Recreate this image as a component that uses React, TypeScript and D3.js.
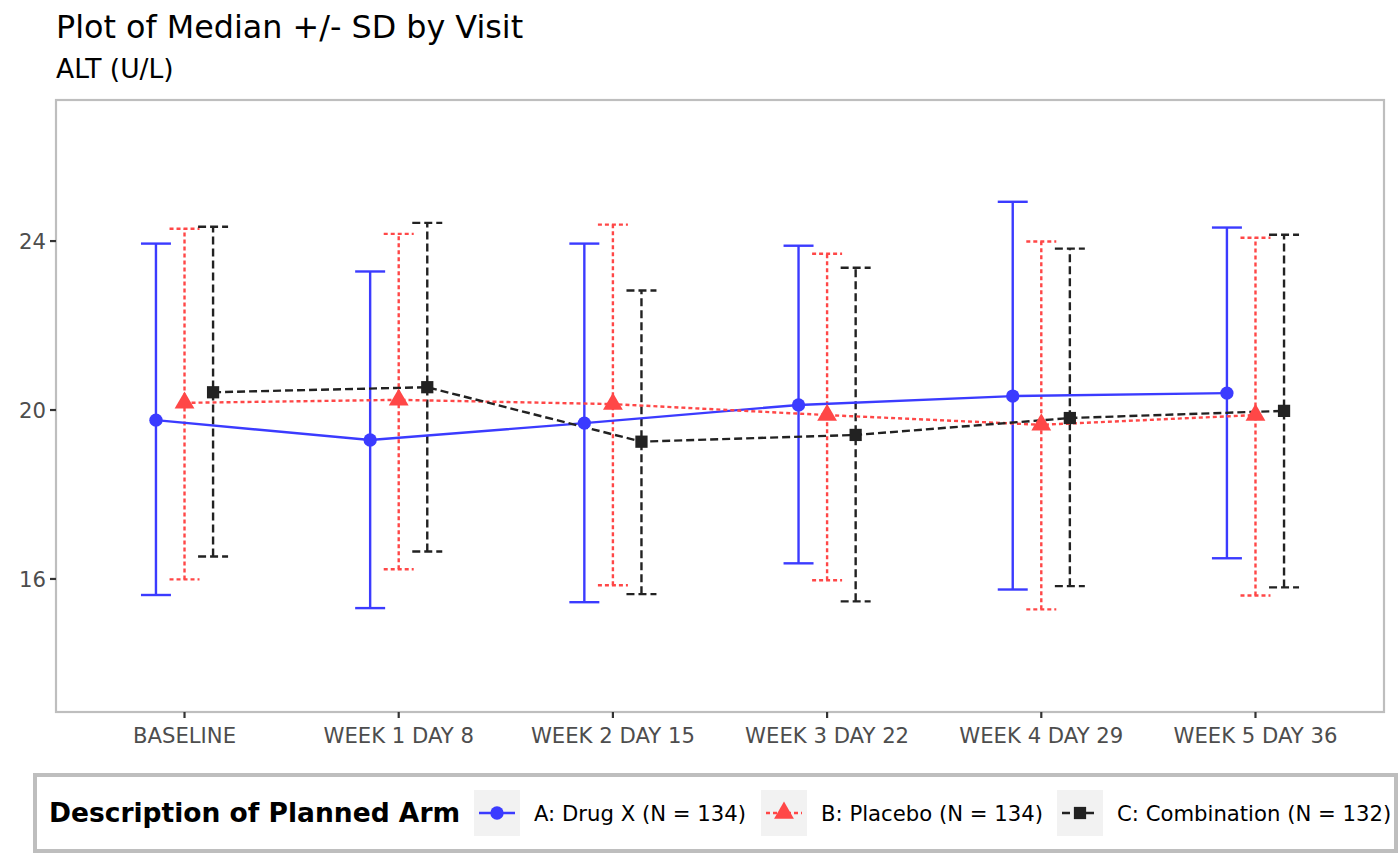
import React from "react";
import * as d3 from "d3";

const visits = ["BASELINE", "WEEK 1 DAY 8", "WEEK 2 DAY 15", "WEEK 3 DAY 22", "WEEK 4 DAY 29", "WEEK 5 DAY 36"];
const arms = ["A: Drug X (N = 134)", "B: Placebo (N = 134)", "C: Combination (N = 132)"];

const medianA = [19.76, 19.29, 19.69, 20.12, 20.33, 20.40];
const lowerA = [15.62, 15.31, 15.45, 16.37, 15.75, 16.49];
const upperA = [23.94, 23.28, 23.94, 23.89, 24.93, 24.32];

const medianB = [20.17, 20.24, 20.14, 19.88, 19.65, 19.88];
const lowerB = [15.99, 16.23, 15.85, 15.97, 15.28, 15.61];
const upperB = [24.29, 24.17, 24.39, 23.70, 23.99, 24.08];

const medianC = [20.42, 20.54, 19.25, 19.41, 19.81, 19.98];
const lowerC = [16.53, 16.65, 15.64, 15.47, 15.83, 15.80];
const upperC = [24.34, 24.43, 22.83, 23.37, 23.82, 24.15];

const yTicks = [16, 20, 24];

const colors = ["#3b3bff", "#ff4747", "#222222"];
const dashes = ["none", "4,3", "8,4"];
const shapes = [d3.symbolCircle, d3.symbolTriangle, d3.symbolSquare];
const shapeSizes = [140, 170, 150];

const W = 1400;
const H = 866;
const panel = { left: 56, right: 1384, top: 100, bottom: 712 };
const FONT = "'DejaVu Sans', sans-serif";

export default function App() {
  const x = d3
    .scaleLinear()
    .domain([0.4, visits.length + 0.6])
    .range([panel.left, panel.right]);
  const y = d3.scaleLinear().domain([12.85, 27.34]).range([panel.bottom, panel.top]);

  const series = [
    { med: medianA, lo: lowerA, hi: upperA },
    { med: medianB, lo: lowerB, hi: upperB },
    { med: medianC, lo: lowerC, hi: upperC },
  ];
  const dodge = [-0.4 / 3, 0, 0.4 / 3];
  const capHalf = 0.07;

  const lineGen = d3
    .line<[number, number]>()
    .x((d) => d[0])
    .y((d) => d[1]);

  const legendX = [474, 761, 1057];
  const legendKeyW = 46;
  const lw = 2.4;

  return (
    <svg
      width={W}
      height={H}
      style={{ position: "absolute", left: 0, top: 0, background: "#fff" }}
      fontFamily={FONT}
    >
      <text x={56} y={38} fontSize={31.8} fill="#000">
        Plot of Median +/- SD by Visit
      </text>
      <text x={56} y={78} fontSize={26.5} fill="#000">
        ALT (U/L)
      </text>

      {/* panel */}
      <rect
        x={panel.left}
        y={panel.top}
        width={panel.right - panel.left}
        height={panel.bottom - panel.top}
        fill="#fff"
        stroke="#bebebe"
        strokeWidth={2.2}
      />

      {/* y axis */}
      {yTicks.map((t) => (
        <g key={t}>
          <line x1={panel.left - 6} x2={panel.left} y1={y(t)} y2={y(t)} stroke="#333" strokeWidth={2.2} />
          <text x={panel.left - 10} y={y(t)} dy="0.36em" textAnchor="end" fontSize={21.2} fill="#4d4d4d">
            {t}
          </text>
        </g>
      ))}

      {/* x axis */}
      {visits.map((v, i) => (
        <g key={v}>
          <line x1={x(i + 1)} x2={x(i + 1)} y1={panel.bottom} y2={panel.bottom + 6} stroke="#333" strokeWidth={2.2} />
          <text x={x(i + 1)} y={panel.bottom + 31} textAnchor="middle" fontSize={21.2} fill="#4d4d4d">
            {v}
          </text>
        </g>
      ))}

      {/* error bars */}
      {series.map((s, si) => (
        <g key={"eb" + si} stroke={colors[si]} strokeWidth={lw} strokeDasharray={dashes[si]} fill="none">
          {visits.map((_, i) => {
            const xc = i + 1 + dodge[si];
            return (
              <g key={i}>
                <line x1={x(xc)} x2={x(xc)} y1={y(s.lo[i])} y2={y(s.hi[i])} />
                <line x1={x(xc - capHalf)} x2={x(xc + capHalf)} y1={y(s.lo[i])} y2={y(s.lo[i])} />
                <line x1={x(xc - capHalf)} x2={x(xc + capHalf)} y1={y(s.hi[i])} y2={y(s.hi[i])} />
              </g>
            );
          })}
        </g>
      ))}

      {/* lines */}
      {series.map((s, si) => (
        <path
          key={"ln" + si}
          d={lineGen(s.med.map((m, i) => [x(i + 1 + dodge[si]), y(m)] as [number, number])) || ""}
          stroke={colors[si]}
          strokeWidth={lw}
          strokeDasharray={dashes[si]}
          fill="none"
        />
      ))}

      {/* points */}
      {series.map((s, si) => (
        <g key={"pt" + si} fill={colors[si]}>
          {s.med.map((m, i) => (
            <path
              key={i}
              transform={`translate(${x(i + 1 + dodge[si])},${y(m)})`}
              d={d3.symbol().type(shapes[si]).size(shapeSizes[si])() || ""}
            />
          ))}
        </g>
      ))}

      {/* legend */}
      <rect x={35} y={775} width={1361} height={76} fill="#fff" stroke="#bebebe" strokeWidth={4} />
      <text x={49} y={822} fontSize={26.5} fontWeight="bold" fill="#000">
        Description of Planned Arm
      </text>
      {arms.map((a, ai) => {
        const kx = legendX[ai];
        const ky = 790;
        const cy = ky + 23;
        return (
          <g key={a}>
            <rect x={kx} y={ky} width={legendKeyW} height={46} fill="#f2f2f2" />
            <line
              x1={kx + 5}
              x2={kx + legendKeyW - 5}
              y1={cy}
              y2={cy}
              stroke={colors[ai]}
              strokeWidth={lw}
              strokeDasharray={dashes[ai]}
            />
            <path
              transform={`translate(${kx + legendKeyW / 2},${cy})`}
              d={d3.symbol().type(shapes[ai]).size(shapeSizes[ai])() || ""}
              fill={colors[ai]}
            />
            <text x={kx + 60} y={cy} dy="0.36em" fontSize={21.2} fill="#000">
              {a}
            </text>
          </g>
        );
      })}
    </svg>
  );
}
